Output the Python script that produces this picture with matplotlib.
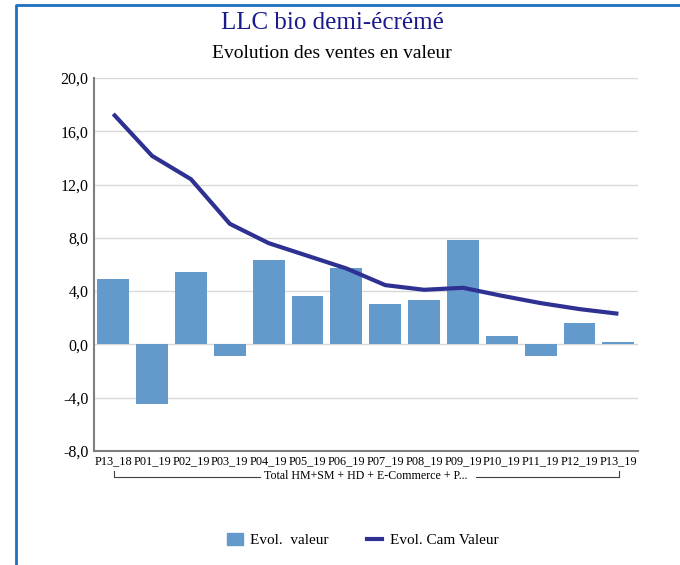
import numpy as np
import matplotlib
matplotlib.use("Agg")
from matplotlib import pyplot as plt
from matplotlib.lines import Line2D
from matplotlib.patches import Patch

plt.rcParams['font.family'] = ['Liberation Serif', 'DejaVu Serif']

periods = ['P13_18', 'P01_19', 'P02_19', 'P03_19', 'P04_19', 'P05_19', 'P06_19',
           'P07_19', 'P08_19', 'P09_19', 'P10_19', 'P11_19', 'P12_19', 'P13_19']
evol_valeur = [4.9, -4.5, 5.4, -0.9, 6.3, 3.6, 5.7, 3.0, 3.3, 7.8, 0.6, -0.9, 1.6, 0.15]
evol_cam = [17.3, 14.15, 12.4, 9.05, 7.6, 6.65, 5.7, 4.45, 4.1, 4.25, 3.65, 3.1, 2.65, 2.3]
group_label = 'Total HM+SM + HD + E-Commerce + P...'
yticks = [-8, -4, 0, 4, 8, 12, 16, 20]

bar_col = '#6399CB'
line_col = '#2E3192'

fig = plt.figure(figsize=(6.8, 5.65), dpi=100)
ax = fig.add_axes([0.138, 0.2018, 0.800, 0.6602])

x = np.arange(len(periods))
ax.bar(x, evol_valeur, width=0.82, color=bar_col, zorder=2)
ax.plot(x, evol_cam, color=line_col, lw=3, zorder=3, solid_capstyle='butt')

ax.set_xlim(-0.5, len(periods) - 0.5)
ax.set_ylim(-8, 20)
ax.set_yticks(yticks)
ax.set_yticklabels([f'{v:.1f}'.replace('.', ',') for v in yticks], fontsize=11.5)
ax.set_xticks(x)
ax.set_xticklabels(periods, fontsize=8.8)
ax.tick_params(axis='both', length=0, pad=4)
ax.tick_params(axis='x', pad=3)
ax.grid(axis='y', color='#d9d9d9', lw=1, zorder=0)
for s in ['top', 'right']:
    ax.spines[s].set_visible(False)
ax.spines['left'].set_color('#7f7f7f')
ax.spines['bottom'].set_color('#7f7f7f')
ax.spines['left'].set_linewidth(1.5)
ax.spines['bottom'].set_linewidth(1.5)

# group bracket under the categories
W, H = 680, 565
def fx(px): return px / W
def fy(py): return 1 - py / H
yb = fy(477)
ytop = fy(471)
fig.add_artist(Line2D([fx(114), fx(114), fx(260)], [ytop, yb, yb], color='#404040', lw=0.8))
fig.add_artist(Line2D([fx(476), fx(619), fx(619)], [yb, yb, ytop], color='#404040', lw=0.8))
fig.text(fx(366), fy(476), group_label, ha='center', va='center', fontsize=8.6)

# titles
fig.text(fx(332), fy(23), 'LLC bio demi-écrémé', ha='center', va='center', fontsize=18, color='#1a1a8c')
fig.text(fx(332), fy(53), 'Evolution des ventes en valeur', ha='center', va='center', fontsize=14)

# legend
handles = [Patch(color=bar_col), Line2D([0], [0], color=line_col, lw=3)]
fig.legend(handles, ['Evol.  valeur', 'Evol. Cam Valeur'], loc='center',
           bbox_to_anchor=(fx(363), fy(540)), ncol=2, frameon=False, fontsize=11,
           handlelength=1.0, handleheight=0.9, columnspacing=2.5, handletextpad=0.5)

# blue frame
fig.add_artist(Line2D([fx(15.5), fx(15.5), 1.0], [0, fy(5), fy(5)], color='#1f6fc0', lw=2))

fig.savefig('out.png', dpi=100)
